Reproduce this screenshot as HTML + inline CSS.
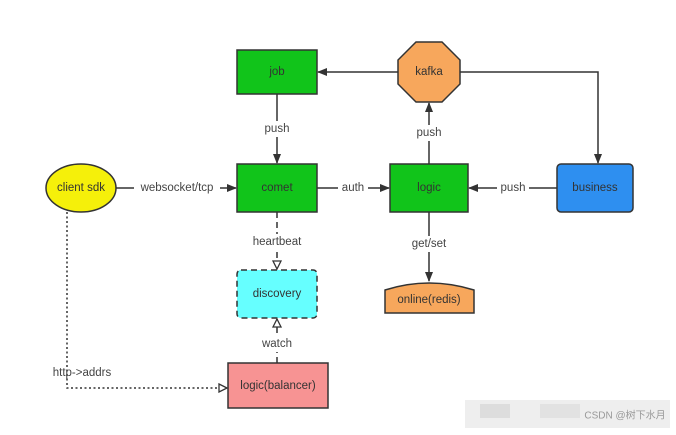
<!DOCTYPE html>
<html><head><meta charset="utf-8"><style>
body{margin:0;background:#fff;width:676px;height:430px;overflow:hidden}
svg text{font-family:"Liberation Sans","Noto Sans CJK SC",sans-serif;font-size:11.5px;text-anchor:middle;dominant-baseline:central}
</style></head><body>
<svg width="676" height="430" viewBox="0 0 676 430">
<defs>
<marker id="a" markerWidth="10" markerHeight="10" refX="9" refY="5" orient="auto" markerUnits="userSpaceOnUse"><path d="M0,1 L10,5 L0,9 Z" fill="#333"/></marker>
<marker id="h" markerWidth="10" markerHeight="10" refX="9" refY="5" orient="auto" markerUnits="userSpaceOnUse"><path d="M1,1 L9,5 L1,9 Z" fill="#fff" stroke="#333" stroke-width="1.3"/></marker>
</defs>
<g stroke="#333" stroke-width="1.5" fill="none">
<line x1="398" y1="72" x2="318" y2="72" marker-end="url(#a)"/>
<polyline points="460,72 598,72 598,163" marker-end="url(#a)"/>
<line x1="277" y1="94" x2="277" y2="163" marker-end="url(#a)"/>
<line x1="116" y1="188" x2="236" y2="188" marker-end="url(#a)"/>
<line x1="317" y1="188" x2="389" y2="188" marker-end="url(#a)"/>
<line x1="557" y1="188" x2="469" y2="188" marker-end="url(#a)"/>
<line x1="429" y1="164" x2="429" y2="103" marker-end="url(#a)"/>
<line x1="429" y1="212" x2="429" y2="281" marker-end="url(#a)"/>
<line x1="277" y1="212" x2="277" y2="269" stroke-dasharray="6,4" marker-end="url(#h)"/>
<line x1="277" y1="363" x2="277" y2="319" stroke-dasharray="6,4" marker-end="url(#h)"/>
<polyline points="67,212 67,388 227,388" stroke-dasharray="2,2.5" marker-end="url(#h)"/>
</g>
<g stroke="#333" stroke-width="1.5">
<rect x="237" y="50" width="80" height="44" fill="#11c41a"/>
<rect x="237" y="164" width="80" height="48" fill="#11c41a"/>
<rect x="390" y="164" width="78" height="48" fill="#11c41a"/>
<rect x="557" y="164" width="76" height="48" rx="4" fill="#2e8ff0"/>
<ellipse cx="81" cy="188" rx="35" ry="24" fill="#f5f00a"/>
<polygon points="416,42 442,42 460,60 460,84 442,102 416,102 398,84 398,60" fill="#f7a75c"/>
<rect x="237" y="270" width="80" height="48" rx="4" fill="#66ffff" stroke-dasharray="6,4"/>
<rect x="228" y="363" width="100" height="45" fill="#f79393"/>
<path d="M385,290 Q429,276 474,290 L474,313 L385,313 Z" fill="#f7a75c"/>
</g>
<g fill="#333">
<text x="277" y="72">job</text><text x="277" y="188">comet</text><text x="429" y="188">logic</text>
<text x="595" y="188">business</text><text x="81" y="188">client sdk</text><text x="429" y="72">kafka</text>
<text x="277" y="294">discovery</text><text x="278" y="386">logic(balancer)</text><text x="429" y="300">online(redis)</text>
</g>
<g fill="#444">
<rect x="254" y="121" width="46" height="16" fill="#fff"/><text x="277" y="129">push</text>
<rect x="406" y="125" width="46" height="16" fill="#fff"/><text x="429" y="133">push</text>
<rect x="134" y="180" width="86" height="16" fill="#fff"/><text x="177" y="188">websocket/tcp</text>
<rect x="338" y="180" width="30" height="16" fill="#fff"/><text x="353" y="188">auth</text>
<rect x="497" y="180" width="32" height="16" fill="#fff"/><text x="513" y="188">push</text>
<rect x="404" y="236" width="50" height="16" fill="#fff"/><text x="429" y="244">get/set</text>
<rect x="248" y="234" width="58" height="16" fill="#fff"/><text x="277" y="242">heartbeat</text>
<rect x="256" y="336" width="42" height="16" fill="#fff"/><text x="277" y="344">watch</text>
<text x="82" y="373">http-&gt;addrs</text>
</g>
<rect x="465" y="400" width="205" height="28" fill="#eee"/>
<rect x="480" y="404" width="30" height="14" fill="#ddd"/><rect x="540" y="404" width="40" height="14" fill="#e2e2e2"/>
<text x="625" y="416" style="font-size:10px;fill:#999">CSDN @树下水月</text>
</svg>
</body></html>
